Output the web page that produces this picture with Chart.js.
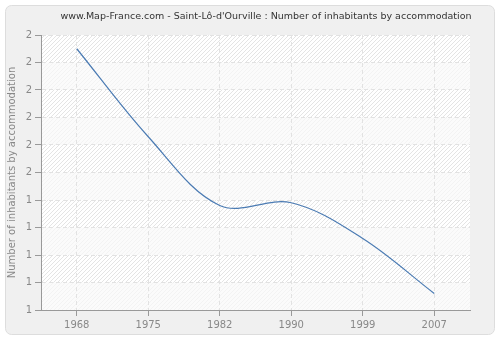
<!DOCTYPE html>
<html>
<head>
<meta charset="utf-8">
<script src="https://cdn.jsdelivr.net/npm/chart.js@4"></script>
<style>
  body { margin: 0; background: #fff; }
  canvas { display: block; }
</style>
</head>
<body>
<canvas id="inhabitants" width="500" height="340"></canvas>
<script>
var years = ['1968', '1975', '1982', '1990', '1999', '2007'];
var perHousing = [1.95, 1.63, 1.38, 1.39, 1.26, 1.06];
var chartTitle = "www.Map-France.com - Saint-Lô-d'Ourville : Number of inhabitants by accommodation";
var yTitle = 'Number of inhabitants by accommodation';

var fontFamily = "'DejaVu Sans', sans-serif";

// hatched pattern for the plot background
function makeHatch() {
  var c = document.createElement('canvas');
  c.width = 4; c.height = 4;
  var g = c.getContext('2d');
  g.fillStyle = '#ffffff';
  g.fillRect(0, 0, 4, 4);
  g.strokeStyle = '#e4e4e4';
  g.lineWidth = 1;
  g.beginPath();
  g.moveTo(0, 4); g.lineTo(4, 0);
  g.moveTo(-2, 2); g.lineTo(2, -2);
  g.moveTo(2, 6); g.lineTo(6, 2);
  g.stroke();
  return c;
}

var background = {
  id: 'background',
  beforeDraw: function(chart) {
    var c = chart.ctx;
    var a = chart.chartArea;
    c.save();
    // outer frame
    c.fillStyle = '#f0f0f0';
    c.strokeStyle = '#dddddd';
    c.lineWidth = 1;
    c.beginPath();
    c.roundRect(5.5, 5.5, 489, 329, 6);
    c.fill();
    c.stroke();
    // plot area, alternating bands
    c.fillStyle = c.createPattern(makeHatch(), 'repeat');
    c.fillRect(a.left, a.top, a.right - a.left, a.bottom - a.top);
    var y = chart.scales.y;
    var ticks = y.ticks;
    c.fillStyle = 'rgba(250,250,250,0.7)';
    for (var i = 0; i < ticks.length - 1; i++) {
      if (i % 2 === 0) {
        var y1 = y.getPixelForValue(ticks[i].value);
        var y2 = y.getPixelForValue(ticks[i + 1].value);
        c.fillRect(a.left, Math.min(y1, y2), a.right - a.left, Math.abs(y1 - y2));
      }
    }
    // title, sized to the reference width
    var size = 12;
    c.font = size + 'px ' + fontFamily;
    while (c.measureText(chartTitle).width > 413 && size > 8) {
      size -= 0.25;
      c.font = size + 'px ' + fontFamily;
    }
    c.fillStyle = '#333333';
    c.textAlign = 'center';
    c.textBaseline = 'middle';
    c.fillText(chartTitle, 266, 17);
    c.restore();
  }
};

new Chart(document.getElementById('inhabitants'), {
  type: 'line',
  data: {
    labels: years,
    datasets: [{
      data: perHousing,
      borderColor: '#4b7bb3',
      borderWidth: 1.2,
      pointRadius: 0,
      tension: 0.35,
      fill: false
    }]
  },
  options: {
    responsive: false,
    animation: false,
    layout: { padding: { top: 35, right: 30, left: 0, bottom: 0 } },
    plugins: { legend: { display: false }, tooltip: { enabled: false } },
    scales: {
      x: {
        offset: true,
        afterFit: function(s) { s.height = 30; },
        grid: { offset: false, color: '#e2e2e2', tickColor: '#999', tickBorderDash: [], tickLength: 6 },
        border: { color: '#999', width: 1, dash: [4, 3] },
        ticks: { color: '#888', font: { family: fontFamily, size: 10 }, padding: 3 }
      },
      y: {
        min: 1,
        max: 2,
        afterFit: function(s) { s.width = 41; },
        grid: { color: '#e2e2e2', tickColor: '#999', tickBorderDash: [], tickLength: 6 },
        border: { color: '#999', width: 1, dash: [4, 3] },
        ticks: {
          stepSize: 0.1,
          color: '#888',
          font: { family: fontFamily, size: 10 },
          padding: 3,
          callback: function(v) { return Math.round(v).toString(); }
        },
        title: {
          display: true,
          text: yTitle,
          color: '#888',
          font: { family: fontFamily, size: 10 },
          padding: { top: 6, bottom: 0 }
        }
      }
    }
  },
  plugins: [background]
});
</script>
</body>
</html>
